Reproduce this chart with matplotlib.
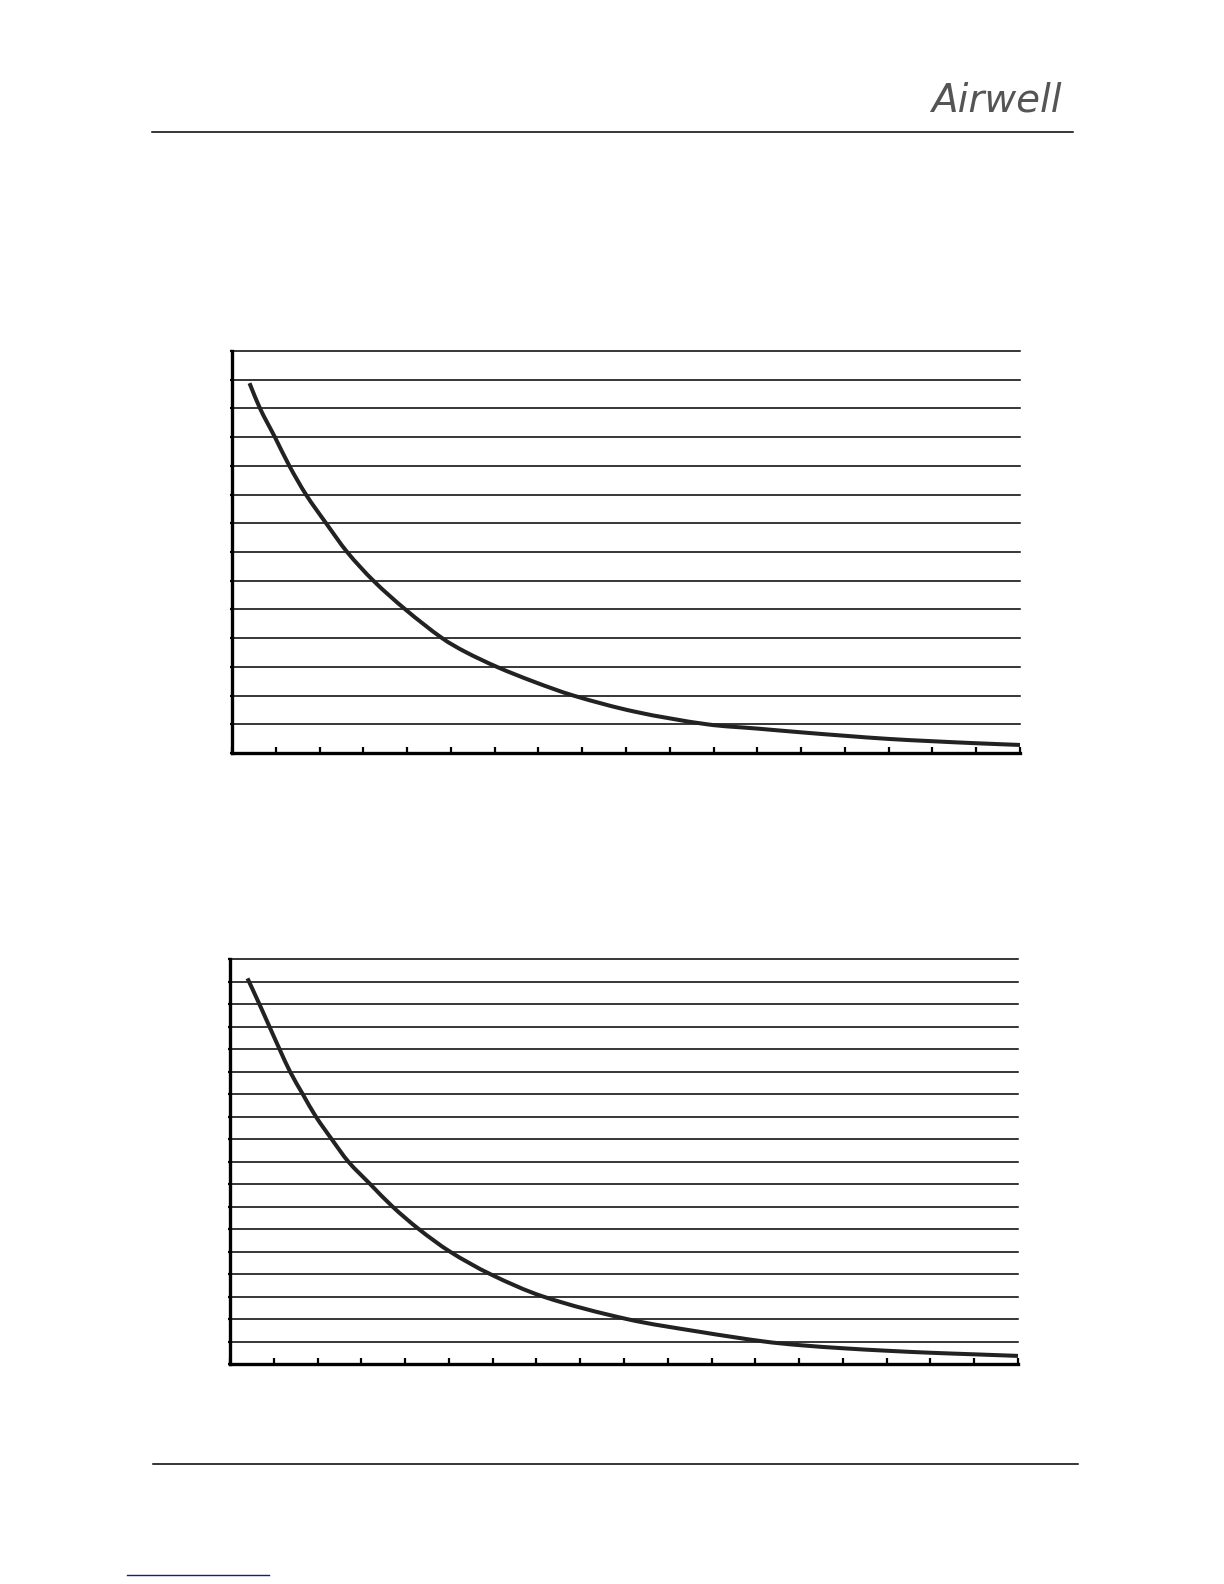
import matplotlib
matplotlib.use("Agg")
import matplotlib.pyplot as plt
from matplotlib.lines import Line2D
from matplotlib.path import Path
from matplotlib.patches import PathPatch

# ---- data (grid units) ----
x_ticks = list(range(0, 19))

chart1_y_ticks = list(range(0, 15))
chart1_x = [0.40, 0.64, 0.98, 1.31, 1.69, 2.15, 2.63, 3.23, 3.96, 4.80, 5.32,
            6.05, 6.90, 7.80, 9.20, 10.85, 12.00, 13.00, 14.00, 15.00, 16.00,
            17.00, 18.00]
chart1_y = [12.88, 12.0, 11.0, 10.0, 9.0, 8.0, 7.0, 6.0, 5.0, 4.0, 3.53,
            3.0, 2.48, 2.0, 1.44, 1.0, 0.85, 0.72, 0.60, 0.49, 0.41,
            0.34, 0.28]

chart2_y_ticks = list(range(0, 19))
chart2_x = [0.40, 0.67, 0.90, 1.13, 1.37, 1.66, 1.96, 2.32, 2.70, 3.20, 3.71,
            4.31, 5.02, 5.94, 7.15, 9.06, 10.73, 12.20, 13.00, 14.00, 15.00,
            16.00, 17.00, 18.00]
chart2_y = [17.14, 16.0, 15.0, 14.0, 13.0, 12.0, 11.0, 10.0, 9.0, 8.0, 7.0,
            6.0, 5.0, 4.0, 3.0, 2.0, 1.43, 1.0, 0.84, 0.70, 0.59,
            0.50, 0.43, 0.36]

W, H = 1224, 1584
fig = plt.figure(figsize=(W / 100, H / 100), dpi=100)
fig.patch.set_facecolor("white")


def px_rect(left, top, right, bottom):
    return [left / W, 1 - bottom / H, (right - left) / W, (bottom - top) / H]


def smooth_path(xs, ys):
    """Cubic Hermite (Bezier) path through the data points, in data coords."""
    n = len(xs)
    slopes = []
    for i in range(n):
        if i == 0:
            slopes.append((ys[1] - ys[0]) / (xs[1] - xs[0]))
        elif i == n - 1:
            slopes.append((ys[-1] - ys[-2]) / (xs[-1] - xs[-2]))
        else:
            slopes.append((ys[i + 1] - ys[i - 1]) / (xs[i + 1] - xs[i - 1]))
    verts = [(xs[0], ys[0])]
    codes = [Path.MOVETO]
    for i in range(n - 1):
        h = xs[i + 1] - xs[i]
        verts += [(xs[i] + h / 3, ys[i] + slopes[i] * h / 3),
                  (xs[i + 1] - h / 3, ys[i + 1] - slopes[i + 1] * h / 3),
                  (xs[i + 1], ys[i + 1])]
        codes += [Path.CURVE4] * 3
    return Path(verts, codes)


def draw_chart(rect, xs, ys, yticks):
    ax = fig.add_axes(rect)
    ax.set_xlim(x_ticks[0], x_ticks[-1])
    ax.set_ylim(yticks[0], yticks[-1])
    ax.set_xticks(x_ticks)
    ax.set_yticks(yticks)
    ax.set_xticklabels([])
    ax.set_yticklabels([])
    for y in yticks[1:]:
        ax.axhline(y, color="black", lw=1.1, zorder=1, clip_on=False)
    for s in ["top", "right"]:
        ax.spines[s].set_visible(False)
    for s in ["left", "bottom"]:
        ax.spines[s].set_linewidth(2.4)
        ax.spines[s].set_color("black")
    ax.tick_params(axis="x", direction="in", length=4.5, width=1.6, color="black")
    ax.tick_params(axis="y", direction="out", length=1.5, width=1.6, color="black")
    patch = PathPatch(smooth_path(xs, ys), facecolor="none", edgecolor="#222222",
                      lw=2.9, capstyle="butt", joinstyle="round", zorder=3,
                      clip_on=False)
    ax.add_patch(patch)
    return ax


draw_chart(px_rect(232, 351, 1020, 753), chart1_x, chart1_y, chart1_y_ticks)
draw_chart(px_rect(230, 959, 1018, 1364), chart2_x, chart2_y, chart2_y_ticks)

# header / footer rules
fig.add_artist(Line2D([152 / W, 1073 / W], [1 - 132 / H, 1 - 132 / H],
                      color="black", lw=1.1))
fig.add_artist(Line2D([153 / W, 1078 / W], [1 - 1464 / H, 1 - 1464 / H],
                      color="black", lw=1.1))
fig.add_artist(Line2D([127 / W, 269 / W], [1 - 1575 / H, 1 - 1575 / H],
                      color="#1a1a80", lw=1.0))

# logo
fig.text(1062 / W, 1 - 100 / H, "Airwell", ha="right", va="center",
         fontsize=28, style="italic", color="#555555", family="DejaVu Sans")

fig.savefig("out.png", dpi=100, facecolor="white")
